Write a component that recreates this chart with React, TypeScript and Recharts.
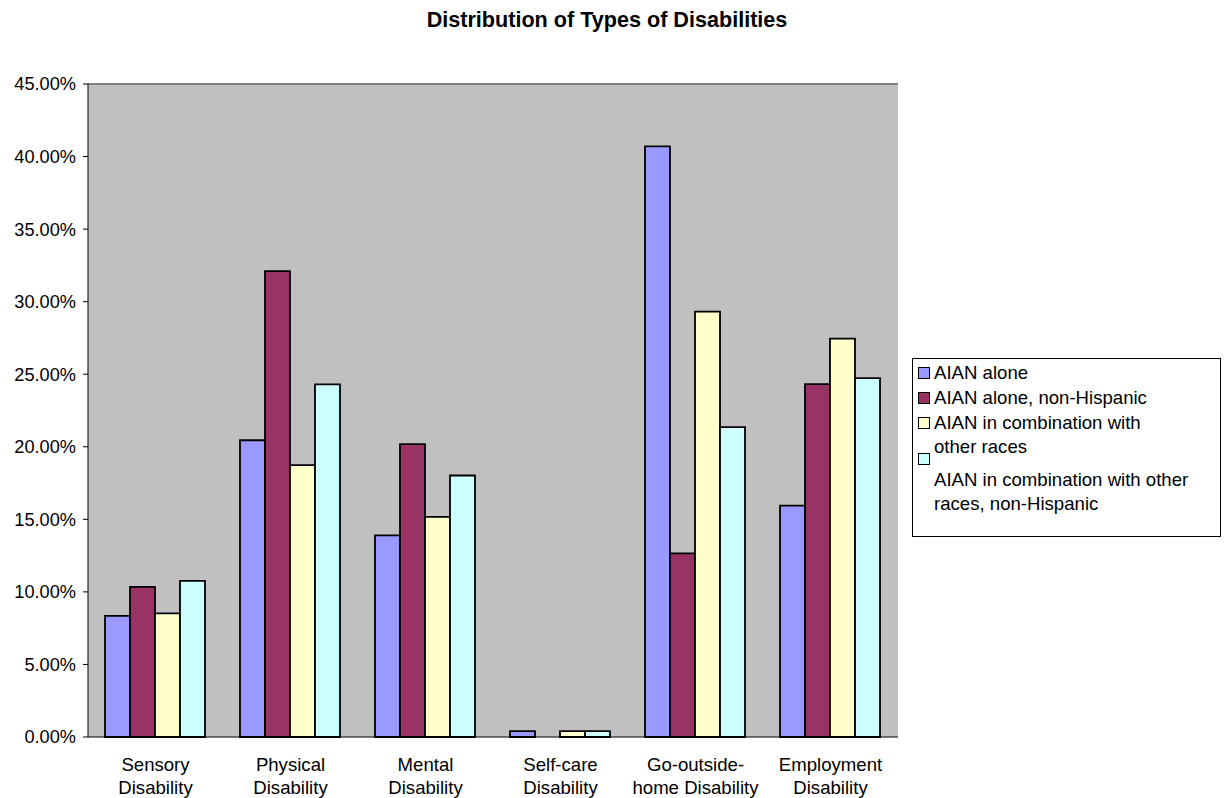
import React from 'react';
import {
  BarChart,
  Bar,
  XAxis,
  YAxis,
  CartesianGrid,
  ReferenceLine,
  Legend,
} from 'recharts';

const categories = [
  'Sensory\nDisability',
  'Physical\nDisability',
  'Mental\nDisability',
  'Self-care\nDisability',
  'Go-outside-\nhome Disability',
  'Employment\nDisability',
];

const aianAlone = [8.35, 20.45, 13.9, 0.41, 40.7, 15.95];
const aianAloneNonHisp = [10.35, 32.1, 20.18, 0, 12.65, 24.32];
const aianCombo = [8.52, 18.73, 15.17, 0.41, 29.31, 27.45];
const aianComboNonHisp = [10.76, 24.3, 18.02, 0.41, 21.35, 24.73];

const yTicks = [0, 5, 10, 15, 20, 25, 30, 35, 40, 45];
const edgeTicks = [0, 1, 2, 3, 4, 5, 6];

const series = [
  { key: 'a', name: 'AIAN alone', color: '#9999ff', values: aianAlone },
  { key: 'b', name: 'AIAN alone, non-Hispanic', color: '#993366', values: aianAloneNonHisp },
  { key: 'c', name: 'AIAN in combination with\nother races', color: '#ffffcc', values: aianCombo },
  { key: 'd', name: 'AIAN in combination with other\nraces, non-Hispanic', color: '#ccffff', values: aianComboNonHisp },
];

const data = categories.map((cat, i) => {
  const row: Record<string, string | number> = { cat };
  series.forEach((s) => {
    row[s.key] = s.values[i];
  });
  return row;
});

const FONT = '"Liberation Sans", Arial, Helvetica, sans-serif';

function CatTick(props: any) {
  const { x, y, payload } = props;
  const lines = String(payload.value).split('\n');
  return (
    <text x={x} y={y} textAnchor="middle" fontFamily={FONT} fontSize={18.6} fill="#000">
      {lines.map((l, i) => (
        <tspan key={i} x={x} dy={i === 0 ? 26 : 23}>
          {l}
        </tspan>
      ))}
    </text>
  );
}

// rows: [row top, swatch top, text top] relative to the legend box
const legendRows = [
  [2, 6, 0],
  [27, 6, 0],
  [52, 6, 0],
  [94, 0, 15],
];

function LegendBox() {
  return (
    <div
      style={{
        position: 'absolute',
        left: 912,
        top: 358,
        width: 309,
        height: 179,
        border: '1px solid #000',
        background: '#fff',
        fontFamily: FONT,
        fontSize: 18.6,
        color: '#000',
        boxSizing: 'border-box',
      }}
    >
      {series.map((s, i) => {
        const [top, swTop, txTop] = legendRows[i];
        const lines = s.name.split('\n');
        return (
          <div key={s.key} style={{ position: 'absolute', left: 5, top }}>
            <div
              style={{
                position: 'absolute',
                left: 0,
                top: swTop,
                width: 12,
                height: 12,
                background: s.color,
                border: '1.5px solid #000',
                boxSizing: 'border-box',
              }}
            />
            <div style={{ position: 'absolute', left: 16, top: txTop, whiteSpace: 'nowrap', lineHeight: '24px' }}>
              {lines.map((l, j) => (
                <div key={j}>{l}</div>
              ))}
            </div>
          </div>
        );
      })}
    </div>
  );
}

export default function App() {
  return (
    <div style={{ position: 'absolute', left: 0, top: 0, width: 1224, height: 798, background: '#fff' }}>
      <div
        style={{
          position: 'absolute',
          left: 0,
          top: 7,
          width: 1214,
          textAlign: 'center',
          fontFamily: FONT,
          fontWeight: 'bold',
          fontSize: 21.6,
        }}
      >
        Distribution of Types of Disabilities
      </div>
      <BarChart
        width={1224}
        height={798}
        data={data}
        margin={{ top: 84, right: 326, bottom: 0, left: 0 }}
        barCategoryGap={17}
        barGap={0}
      >
        <CartesianGrid horizontal vertical={false} stroke="#000" fill="#c0c0c0" fillOpacity={1} />
        <XAxis
          xAxisId="edge"
          type="number"
          domain={[0, 6]}
          ticks={edgeTicks}
          allowDataOverflow
          height={0}
          tickSize={6}
          tickFormatter={() => ''}
          axisLine={{ stroke: '#000' }}
          tickLine={{ stroke: '#000' }}
        />
        <XAxis
          dataKey="cat"
          xAxisId="cat"
          height={61}
          axisLine={false}
          tickLine={false}
          interval={0}
          tick={<CatTick />}
        />
        <YAxis
          yAxisId="left"
          width={88}
          domain={[0, 45]}
          ticks={yTicks}
          tickSize={5}
          tickMargin={7}
          tickFormatter={(v: number) => v.toFixed(2) + '%'}
          tick={{ fontFamily: FONT, fontSize: 18.2, fill: '#000' }}
          axisLine={{ stroke: '#000' }}
          tickLine={{ stroke: '#000' }}
        />
        <YAxis
          yAxisId="right"
          orientation="right"
          width={0}
          domain={[0, 45]}
          tick={false}
          tickLine={false}
          axisLine={{ stroke: '#808080', strokeWidth: 2 }}
        />
        <ReferenceLine yAxisId="left" xAxisId="cat" y={45} stroke="#808080" strokeWidth={2} />
        {series.map((s) => (
          <Bar
            key={s.key}
            dataKey={s.key}
            name={s.name}
            xAxisId="cat"
            yAxisId="left"
            fill={s.color}
            stroke="#000"
            strokeWidth={1.8}
            isAnimationActive={false}
          />
        ))}
        <Legend content={() => null} />
      </BarChart>
      <LegendBox />
    </div>
  );
}
